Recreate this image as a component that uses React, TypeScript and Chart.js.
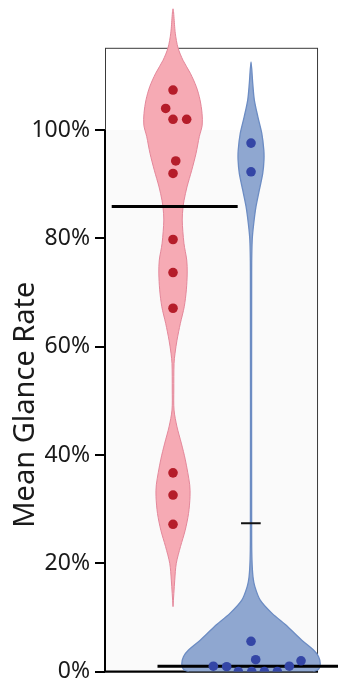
import React, { useEffect, useRef } from "react";
import { Chart, registerables } from "chart.js";

Chart.register(...registerables);

// ---- data ----
const groups = ["Group A", "Group B"];
const groupCenters = [0, 1];
const yTickValues = [0, 20, 40, 60, 80, 100];
const yAxisTitle = "Mean Glance Rate";

const redPointValues = [107.4, 104.0, 102.0, 102.0, 94.3, 92.0, 79.8, 73.7, 67.1, 36.7, 32.6, 27.2];
const redPointOffsets = [0, -0.094, 0, 0.175, 0.035, 0, 0, 0, 0, 0, 0, 0];
const bluePointValues = [97.6, 92.3, 5.6, 2.2, 1.0, 0.9, 0, 0, 0, 0, 1.0, 2.0];
const bluePointOffsets = [0, 0, 0, 0.06, -0.483, -0.312, -0.163, 0.009, 0.171, 0.337, 0.491, 0.641];

// violin density profile (value, half width in group units)
const redDensityValues = [122.4, 117.9, 115.2, 112.9, 110.5, 108.0, 105.6, 103.1, 100.9, 98.8, 95.7, 92.6, 89.5, 87.0, 85.7, 83.4, 79.1, 76.0, 73.6, 70.5, 67.4, 64.3, 61.2, 58.8, 56.9, 52.0, 48.3, 45.2, 42.2, 39.1, 34.5, 32.3, 29.2, 26.1, 23.1, 20.0, 16.9, 12.0];
const redDensityWidths = [0, 0.029, 0.064, 0.128, 0.222, 0.299, 0.346, 0.372, 0.374, 0.337, 0.295, 0.24, 0.179, 0.141, 0.128, 0.118, 0.14, 0.176, 0.182, 0.171, 0.144, 0.094, 0.051, 0.026, 0.013, 0.01, 0.013, 0.051, 0.106, 0.158, 0.214, 0.218, 0.199, 0.156, 0.096, 0.042, 0.022, 0];
const blueDensityValues = [112.6, 108.6, 105.6, 102.5, 99.4, 96.3, 94.5, 92.0, 88.9, 85.9, 82.8, 79.7, 74.0, 25.0, 20.6, 17.5, 15.7, 13.2, 10.8, 8.3, 5.8, 4.0, 2.8, 1.5, 0.5, -0.1];
const blueDensityWidths = [0, 0.022, 0.042, 0.087, 0.138, 0.164, 0.166, 0.15, 0.106, 0.064, 0.035, 0.015, 0.008, 0.008, 0.012, 0.025, 0.049, 0.118, 0.267, 0.471, 0.651, 0.801, 0.865, 0.887, 0.87, 0.8];

const redMean = 85.9;
const blueMedian = 1.0;
const blueUpper = 27.4;

// ---- helpers ----
function violinOutline(center: number, values: number[], widths: number[]) {
  const pts: { x: number; y: number }[] = [];
  for (let i = values.length - 1; i >= 0; i--) pts.push({ x: center + widths[i], y: values[i] });
  for (let i = 0; i < values.length; i++) {
    if (widths[i] === 0 && i === 0) continue;
    pts.push({ x: center - widths[i], y: values[i] });
  }
  return pts;
}

const X_MIN = -0.872;
const X_MAX = 2.115;
const BOX_RIGHT = 1.859;
const BOX_TOP = 115.2;

const framePlugin = {
  id: "frame",
  beforeDatasetsDraw(chart: any) {
    const { ctx } = chart;
    const x = chart.scales.x;
    const y = chart.scales.y;
    const l = x.getPixelForValue(X_MIN);
    const r = x.getPixelForValue(BOX_RIGHT);
    const t = y.getPixelForValue(BOX_TOP);
    const y100 = y.getPixelForValue(100);
    const b = y.getPixelForValue(0);
    ctx.save();
    ctx.fillStyle = "#fafafa";
    ctx.fillRect(l, y100, r - l, b - y100);
    ctx.strokeStyle = "#3a3a3a";
    ctx.lineWidth = 1;
    ctx.strokeRect(l + 0.5, t + 0.5, r - l - 1, b - t);
    ctx.strokeStyle = "#000";
    ctx.lineWidth = 2;
    ctx.beginPath();
    ctx.moveTo(l, y100);
    ctx.lineTo(l, b);
    ctx.lineTo(r, b);
    ctx.stroke();
    ctx.restore();
  },
  afterDraw(chart: any) {
    const { ctx } = chart;
    const y = chart.scales.y;
    const cy = y.getPixelForValue(49.3);
    ctx.save();
    ctx.translate(33.5, cy);
    ctx.rotate(-Math.PI / 2);
    ctx.font = "29px 'Noto Sans'";
    ctx.fillStyle = "#1a1a1a";
    ctx.textAlign = "center";
    ctx.textBaseline = "alphabetic";
    ctx.fillText(yAxisTitle, 0, 0);
    ctx.restore();
  },
};

export default function App() {
  const ref = useRef<HTMLCanvasElement | null>(null);
  useEffect(() => {
    if (!ref.current) return;
    const redC = groupCenters[0];
    const blueC = groupCenters[1];
    const chart = new Chart(ref.current, {
      type: "scatter",
      data: {
        datasets: [
          {
            type: "line",
            label: groups[0] + " violin",
            data: violinOutline(redC, redDensityValues, redDensityWidths),
            backgroundColor: "#f6aab4",
            borderColor: "#e3879a",
            borderWidth: 1,
            fill: "shape",
            tension: 0.3,
            pointRadius: 0,
            order: 5,
          } as any,
          {
            type: "line",
            label: groups[1] + " violin",
            data: violinOutline(blueC, blueDensityValues, blueDensityWidths),
            backgroundColor: "#8fa7d0",
            borderColor: "#6c8cc3",
            borderWidth: 1.3,
            fill: "shape",
            tension: 0.3,
            pointRadius: 0,
            order: 5,
          } as any,
          {
            type: "line",
            label: groups[0] + " mean",
            data: [
              { x: redC - 0.786, y: redMean },
              { x: redC + 0.829, y: redMean },
            ],
            borderColor: "#000",
            borderWidth: 3,
            pointRadius: 0,
            fill: false,
            order: 3,
          } as any,
          {
            type: "line",
            label: groups[1] + " median",
            data: [
              { x: blueC - 1.199, y: blueMedian },
              { x: X_MAX, y: blueMedian },
            ],
            borderColor: "#000",
            borderWidth: 3,
            pointRadius: 0,
            fill: false,
            order: 3,
          } as any,
          {
            type: "line",
            label: groups[1] + " whisker",
            data: [
              { x: blueC - 0.128, y: blueUpper },
              { x: blueC + 0.124, y: blueUpper },
            ],
            borderColor: "#111",
            borderWidth: 2,
            pointRadius: 0,
            fill: false,
            order: 3,
          } as any,
          {
            type: "scatter",
            label: groups[0],
            data: redPointValues.map((v, i) => ({ x: redC + redPointOffsets[i], y: v })),
            backgroundColor: "#b51d2a",
            borderWidth: 0,
            pointRadius: 4.8,
            order: 1,
          } as any,
          {
            type: "scatter",
            label: groups[1],
            data: bluePointValues.map((v, i) => ({ x: blueC + bluePointOffsets[i], y: v })),
            backgroundColor: "#3446a6",
            borderWidth: 0,
            pointRadius: 4.8,
            order: 1,
          } as any,
        ],
      },
      options: {
        animation: false,
        responsive: true,
        maintainAspectRatio: false,
        layout: { autoPadding: false, padding: { top: 8, bottom: 8.4, left: 0, right: 0 } },
        plugins: { legend: { display: false }, tooltip: { enabled: false } },
        scales: {
          x: { type: "linear", min: X_MIN, max: X_MAX, display: false },
          y: {
            type: "linear",
            min: 0,
            max: 122.55,
            afterBuildTicks: (s: any) => {
              s.ticks = yTickValues.map((v) => ({ value: v }));
            },
            afterFit: (s: any) => {
              s.width = 105;
              s.paddingTop = 0;
              s.paddingBottom = 0;
            },
            ticks: {
              callback: (v: any) => v + "%",
              font: { family: "'Noto Sans'", size: 23 },
              color: "#1a1a1a",
              padding: 5,
            },
            grid: {
              drawOnChartArea: false,
              drawTicks: true,
              tickLength: 10,
              color: "#000",
              lineWidth: 2,
            },
            border: { display: false },
          },
        },
      } as any,
      plugins: [framePlugin],
    });
    return () => chart.destroy();
  }, []);
  return (
    <div style={{ position: "absolute", left: 0, top: 0, width: 338, height: 680 }}>
      <canvas ref={ref} />
    </div>
  );
}
